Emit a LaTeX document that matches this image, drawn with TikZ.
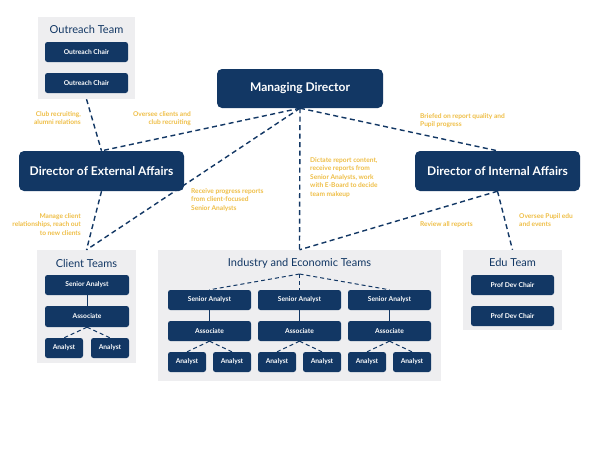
\documentclass[tikz,border=0pt]{standalone}
\usepackage{fontspec}
\setmainfont{Lato}
\definecolor{navy}{HTML}{123764}
\definecolor{boxgray}{HTML}{EEEEF0}
\definecolor{gold}{HTML}{EFBE45}
\tikzset{
  smallbox/.style={fill=navy, rounded corners=2.5pt, text=white, font=\bfseries\fontsize{6.7}{7}\selectfont, inner sep=0pt},
  bigbox/.style={fill=navy, rounded corners=5pt, text=white, font=\bfseries\fontsize{12}{13}\selectfont, inner sep=0pt},
  teambox/.style={fill=boxgray, inner sep=0pt},
  teamtitle/.style={text=navy, font=\fontsize{11}{12}\selectfont, inner sep=0pt},
  lbl/.style={text=gold, font=\bfseries\fontsize{6.6}{8.5}\selectfont, inner sep=0pt},
  conn/.style={draw=navy, line width=1.4pt, dash pattern=on 5pt off 3.5pt},
  sconn/.style={draw=navy, line width=1pt, dash pattern=on 4pt off 3pt},
  solidc/.style={draw=navy, line width=1pt},
}
\begin{document}
\begin{tikzpicture}[x=1pt,y=-1pt]
\useasboundingbox[fill=white] (0,0) rectangle (600,451);
% team backgrounds
\node[teambox, minimum width=97, minimum height=82] (out) at (86.5,58) {};
\node[teambox, minimum width=99, minimum height=113] (client) at (86.5,306.5) {};
\node[teambox, minimum width=283, minimum height=131] (ind) at (299.5,315.5) {};
\node[teambox, minimum width=99, minimum height=80] (edu) at (512.5,290) {};
% titles
\node[teamtitle] (outt) at (86.5,29) {Outreach Team};
\node[teamtitle] (clientt) at (86.5,263) {Client Teams};
\node[teamtitle] (indt) at (299.5,263) {Industry and Economic Teams};
\node[teamtitle] (edut) at (512.5,262) {Edu Team};
\coordinate (indhub) at (299.5,274);
% top level
\node[bigbox, minimum width=166, minimum height=39] (md) at (300,88.5) {Managing Director};
\node[bigbox, minimum width=165, minimum height=40] (dext) at (101.5,171) {Director of External Affairs};
\node[bigbox, minimum width=165, minimum height=40] (dint) at (497.5,171) {Director of Internal Affairs};
% outreach
\node[smallbox, minimum width=83, minimum height=20] (oc1) at (86.5,52) {Outreach Chair};
\node[smallbox, minimum width=83, minimum height=20] (oc2) at (86.5,83) {Outreach Chair};
% edu
\node[smallbox, minimum width=83, minimum height=20] (pd1) at (512.5,285) {Prof Dev Chair};
\node[smallbox, minimum width=83, minimum height=20] (pd2) at (512.5,316) {Prof Dev Chair};
% client
\node[smallbox, minimum width=84, minimum height=20] (csa) at (87,285) {Senior Analyst};
\node[smallbox, minimum width=84, minimum height=21] (cas) at (87,316.5) {Associate};
\node[smallbox, minimum width=38, minimum height=20] (can1) at (64,348) {Analyst};
\node[smallbox, minimum width=38, minimum height=20] (can2) at (110,348) {Analyst};
\draw[solidc] (csa.south) -- (cas.north);
\draw[sconn] (cas.south) -- (can1.north);
\draw[sconn] (cas.south) -- (can2.north);
% industry
\foreach \i/\cx in {1/209.5, 2/299.5, 3/389.5} {
  \node[smallbox, minimum width=83, minimum height=20] (sa\i) at (\cx,300) {Senior Analyst};
  \node[smallbox, minimum width=83, minimum height=20] (as\i) at (\cx,331) {Associate};
  \node[smallbox, minimum width=38, minimum height=20] (ana\i) at (\cx-22.5,362) {Analyst};
  \node[smallbox, minimum width=38, minimum height=20] (anb\i) at (\cx+22.5,362) {Analyst};
  \draw[sconn] (indhub) -- (sa\i.north);
  \draw[solidc] (sa\i.south) -- (as\i.north);
  \draw[sconn] (as\i.south) -- (ana\i.north);
  \draw[sconn] (as\i.south) -- (anb\i.north);
}
% main connectors
\draw[conn] (out.south) -- (dext.north);
\draw[conn] (md.south) -- (dext.north);
\draw[conn] (md.south) -- (client.north);
\draw[conn] (dext.south) -- (client.north);
\draw[conn] (md.south) -- (ind.north);
\draw[conn] (md.south) -- (dint.north);
\draw[conn] (dint.south) -- (ind.north);
\draw[conn] (dint.south) -- (edu.north);
% labels
\node[lbl, anchor=north east, align=right] (l1) at (81,111) {Club recruiting,\\alumni relations};
\node[lbl, anchor=north east, align=right] (l2) at (191,111) {Oversee clients and\\club recruiting};
\node[lbl, anchor=north west, align=left] (l3) at (191,188) {Receive progress reports\\from client-focused\\Senior Analysts};
\node[lbl, anchor=north east, align=right] (l4) at (81,213) {Manage client\\relationships, reach out\\to new clients};
\node[lbl, anchor=north west, align=left] (l5) at (310,157) {Dictate report content,\\receive reports from\\Senior Analysts, work\\with E-Board to decide\\team makeup};
\node[lbl, anchor=north west, align=left] (l6) at (420,113) {Briefed on report quality and\\Pupil progress};
\node[lbl, anchor=north west, align=left] (l7) at (420,221) {Review all reports};
\node[lbl, anchor=north west, align=left] (l8) at (519,213) {Oversee Pupil edu\\and events};
\end{tikzpicture}
\end{document}
